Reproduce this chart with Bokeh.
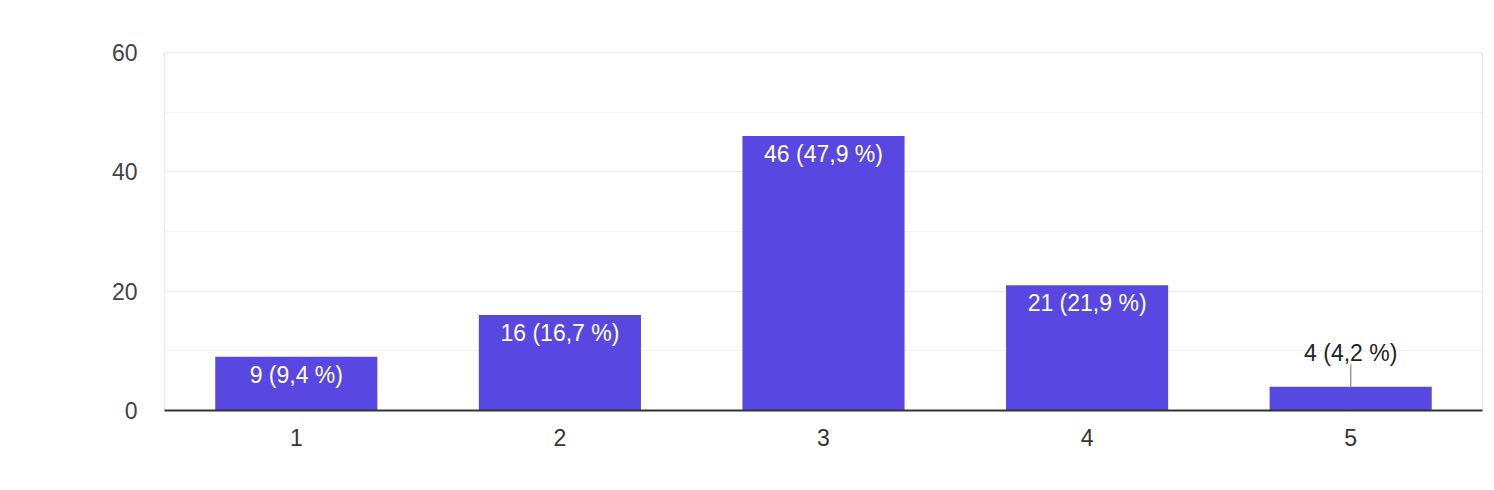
from bokeh.plotting import figure, ColumnDataSource
from bokeh.models import FixedTicker
from bokeh.core.properties import value
from bokeh.embed import file_html
from bokeh.resources import INLINE

# data
categories = ["1", "2", "3", "4", "5"]
counts = [9, 16, 46, 21, 4]
labels = ["9 (9,4 %)", "16 (16,7 %)", "46 (47,9 %)", "21 (21,9 %)", "4 (4,2 %)"]
y_ticks = [0, 20, 40, 60]

FONT = "Liberation Sans"
BAR = "#5847e0"
FS = "23px"

inside = [i for i, c in enumerate(counts) if c >= 8]
outside = [i for i, c in enumerate(counts) if c < 8]

src_in = ColumnDataSource(data=dict(
    x=[categories[i] for i in inside],
    y=[counts[i] for i in inside],
    t=[labels[i] for i in inside],
))
src_out = ColumnDataSource(data=dict(
    x=[categories[i] for i in outside],
    y=[counts[i] for i in outside],
    t=[labels[i] for i in outside],
))

p = figure(
    x_range=categories,
    y_range=(0, 60),
    width=1487,
    height=482,
    output_backend="svg",
    toolbar_location=None,
    min_border_left=164,
    min_border_right=5,
    min_border_top=52,
    min_border_bottom=72,
)
p.x_range.range_padding = 0
p.background_fill_color = "white"
p.border_fill_color = "white"
p.outline_line_color = "#e6e6e6"

p.vbar(x=categories, top=counts, width=0.615, color=BAR, line_color=None)

# labels inside the bars
p.text(x="x", y="y", text="t", source=src_in, y_offset=18,
       text_align="center", text_baseline="middle",
       text_color="white", text_font=value(FONT), text_font_size=FS)

# small bars: label above with a leader line
p.text(x="x", y="y", text="t", source=src_out, y_offset=-34,
       text_align="center", text_baseline="middle",
       text_color="#222222", text_font=value(FONT), text_font_size=FS)
for i in outside:
    p.line(x=[categories[i], categories[i]], y=[counts[i], counts[i] + 3.7],
           line_color="#999999", line_width=1.5)

# y axis
p.yaxis.ticker = FixedTicker(ticks=y_ticks, minor_ticks=[10, 30, 50])
p.yaxis.axis_line_color = None
p.yaxis.major_tick_line_color = None
p.yaxis.minor_tick_line_color = None
p.yaxis.major_tick_out = 0
p.yaxis.major_label_standoff = 23
p.yaxis.major_label_text_font = FONT
p.yaxis.major_label_text_font_size = FS
p.yaxis.major_label_text_color = "#444444"

# x axis
p.xaxis.axis_line_color = "#333333"
p.xaxis.axis_line_width = 2
p.xaxis.major_tick_line_color = None
p.xaxis.major_tick_out = 0
p.xaxis.major_label_standoff = 18
p.xaxis.major_label_text_font = FONT
p.xaxis.major_label_text_font_size = FS
p.xaxis.major_label_text_color = "#333333"

p.xgrid.grid_line_color = None
p.ygrid.grid_line_color = "#ebebeb"
p.ygrid.minor_grid_line_color = "#f3f3f3"

open("out.html", "w").write(file_html(p, INLINE))
